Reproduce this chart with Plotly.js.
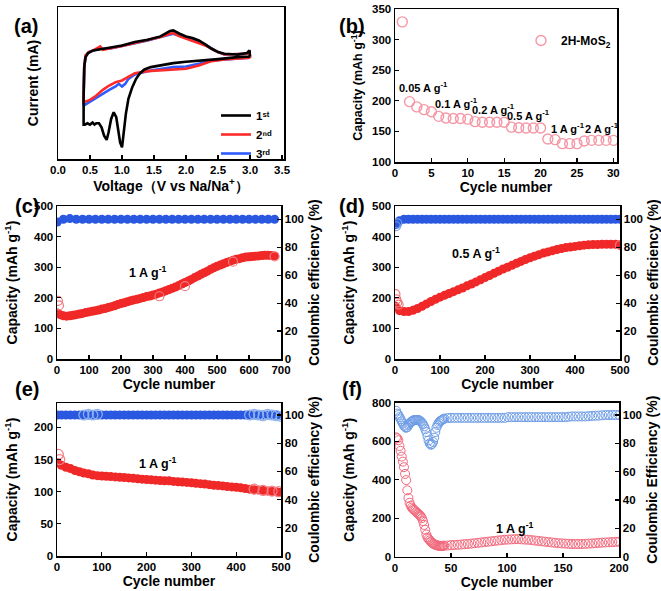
<!DOCTYPE html>
<html><head><meta charset="utf-8">
<script src="https://cdn.plot.ly/plotly-3.0.1.min.js"></script>
<style>html,body{margin:0;padding:0;background:#fff}#p{width:661px;height:591px}</style>
</head><body><div id="p"></div>
<script>
// ---------- (a) cyclic voltammetry ----------
const aV1 = [3.0,2.8,2.5,2.2,2.0,1.8,1.6,1.45,1.35,1.28,1.22,1.16,1.1,1.06,1.03,1.0,0.97,0.94,0.91,0.87,0.83,0.79,0.76,0.72,0.68,0.64,0.6,0.57,0.54,0.5,0.46,0.42,0.4,0.4,0.41,0.43,0.47,0.55,0.65,0.8,1.0,1.2,1.4,1.6,1.75,1.8,1.9,2.0,2.1,2.2,2.3,2.4,2.5,2.6,2.8,2.95,2.99,3.0];
const aI1 = [0.164,0.16,0.148,0.14,0.132,0.124,0.112,0.10,0.086,0.064,0.03,-0.02,-0.09,-0.18,-0.28,-0.38,-0.35,-0.28,-0.20,-0.17,-0.21,-0.29,-0.336,-0.31,-0.26,-0.236,-0.236,-0.244,-0.232,-0.244,-0.236,-0.244,-0.244,-0.08,0.10,0.16,0.184,0.20,0.208,0.216,0.23,0.25,0.264,0.284,0.316,0.32,0.30,0.284,0.274,0.26,0.236,0.21,0.19,0.18,0.176,0.184,0.20,0.164];
const aV2 = [3.0,2.6,2.4,2.2,2.0,1.8,1.6,1.4,1.2,1.1,1.0,0.9,0.8,0.7,0.6,0.5,0.45,0.4,0.4,0.41,0.43,0.48,0.55,0.62,0.66,0.7,0.8,1.0,1.2,1.4,1.6,1.75,1.8,1.9,2.0,2.1,2.2,2.3,2.4,2.5,2.6,2.8,2.95,2.99,3.0];
const aI2 = [0.156,0.146,0.136,0.11,0.09,0.086,0.08,0.076,0.064,0.044,0.02,0.01,-0.01,-0.036,-0.07,-0.096,-0.104,-0.11,-0.06,0.1,0.17,0.19,0.2,0.214,0.224,0.204,0.21,0.226,0.244,0.26,0.28,0.3,0.304,0.284,0.27,0.26,0.244,0.23,0.21,0.19,0.176,0.176,0.18,0.19,0.156];
const aV3 = [3.0,2.6,2.4,2.2,2.0,1.8,1.6,1.4,1.2,1.1,1.05,1.0,0.95,0.9,0.8,0.7,0.6,0.5,0.4,0.4,0.41,0.43,0.48,0.55,0.65,0.8,1.0,1.2,1.4,1.6,1.75,1.8,1.9,2.0,2.1,2.2,2.3,2.4,2.5,2.6,2.8,2.95,2.99,3.0];
const aI3 = [0.156,0.146,0.14,0.12,0.104,0.1,0.09,0.076,0.056,0.03,0,-0.016,0,-0.016,-0.036,-0.06,-0.084,-0.11,-0.13,-0.08,0.1,0.164,0.188,0.2,0.21,0.21,0.226,0.244,0.26,0.28,0.296,0.3,0.288,0.276,0.26,0.25,0.234,0.21,0.19,0.176,0.176,0.18,0.19,0.156];
const aNames = ['1ˢᵗ','2ⁿᵈ','3ʳᵈ'];

// ---------- (b) rate capability ----------
const bCycle = [1,2,3,4,5,6,7,8,9,10,11,12,13,14,15,16,17,18,19,20,21,22,23,24,25,26,27,28,29,30];
const bCap = [329,198.6,190,185.5,182,174.6,172,171,171,170,166,165,165,165,165,157,156,155.5,155.5,155.5,137.6,136.5,130,130,130,134.3,135.4,135.4,135.4,135.4];
const bRates = ['0.05 A g<sup>-1</sup>','0.1 A g<sup>-1</sup>','0.2 A g<sup>-1</sup>','0.5 A g<sup>-1</sup>','1 A g<sup>-1</sup>','2 A g<sup>-1</sup>'];
const bRateX = [3.85, 8.5, 13.6, 18.4, 23.7, 28.5];
const bRateY = [222, 196, 187, 177, 156, 156];

// ---------- (c) 1 A/g long cycling ----------
const cCycle = [1,10,20,30,40,50,60,70,80,90,100,110,120,130,140,150,160,170,180,190,200,210,220,230,240,250,260,270,280,290,300,310,320,330,340,350,360,370,380,390,400,410,420,430,440,450,460,470,480,490,500,510,520,530,540,550,560,570,580,590,600,610,620,630,640,650,660,670,680];
const cCap = [150,145,141,140,141,143,145,147,149,152,154,156,158,160,163,165,168,171,174,178,181,184,187,190,193,195,198,201,204,206,209,212,216,219,223,227,231,235,240,245,250,255,260,266,271,277,282,287,293,298,303,307,311,315,319,323,326,328,331,333,334,335,336,337,338,339,339,338,337];
const cOutCycle = [3,6,320,400,550,680];
const cOutCap = [190,175,205,238,318,335];
const cCECycle = [1,20,40,60,80,100,120,140,160,180,200,220,240,260,280,300,320,340,360,380,400,420,440,460,480,500,520,540,560,580,600,620,640,660,680];
const cCE = [98,100,100.5,100,100,100,100,100,100,100,100,100,100,100,100,100,100,100,100,100,100,100,100,100,100,100,100,100,100,100,100,100,100,100,100];

// ---------- (d) 0.5 A/g long cycling ----------
const dCycle = [1,10,20,30,40,50,60,70,80,90,100,110,120,130,140,150,160,170,180,190,200,210,220,230,240,250,260,270,280,290,300,310,320,330,340,350,360,370,380,390,400,410,420,430,440,450,460,470,480,490,500];
const dCap = [172,158,155,155,159,165,172,180,188,195,202,208,214,220,226,232,239,245,252,259,266,273,280,287,294,300,306,313,319,325,331,336,341,346,350,354,358,361,364,366,368,370,372,373,374,374,375,375,375,375,374];
const dOutCycle = [1,3,5,8,500];
const dOutCap = [212,195,185,178,372];
const dCE = [96,99,100,100,100,100,100,100,100,100,100,100,100,100,100,100,100,100,100,100,100,100,100,100,100,100,100,100,100,100,100,100,100,100,100,100,100,100,100,100,100,100,100,100,100,100,100,100,100,100,100];
const dCEOutCycle = [2,5];
const dCEOut = [95,97];

// ---------- (e) 1 A/g long cycling ----------
const eCycle = dCycle;
const eCap = [145,141,138,136,133,131,129,128,126,125,124.5,124,123.5,123,122.5,122,121.5,121,120,119.5,119,118.5,118,117.5,117,117,116,115.5,115,114.5,114,113,112.5,112,111,110,109.5,109,108,107.5,107,106,105,104,103,102.5,102,101,100.5,100,99];
const eOutCycle = [3,6,440,460,480,495];
const eOutCap = [158,150,104,102,101,100];
const eCE = [100,100,100,100,100,100,100,100,100,100,100,100,100,100,100,100,100,100,100,100,100,100,100,100,100,100,100,100,100,100,100,100,100,100,100,100,100,100,100,100,100,100,100,100,100,100,100,100,100,100,99.5];
const eCEOutCycle = [60,70,80,90,430,440,450,460,470,480,490,500];
const eCEOut = [100,100.5,100,100.5,100,100.5,100,99.5,100.5,100,99.5,99];

// ---------- (f) 1 A/g long cycling ----------
const fCycle = [1,2,3,4,5,6,7,8,9,10,11,12,13,14,15,16,17,18,19,20,21,22,23,24,25,26,27,28,29,30,31,32,33,34,35,36,37,38,39,40,41,42,43,44,47,50,53,56,59,62,65,68,71,74,77,80,83,86,89,92,95,98,101,104,107,110,113,116,119,122,125,128,131,134,137,140,143,146,149,152,155,158,161,164,167,170,173,176,179,182,185,188,191,194,197,200];
const fCap = [620,615,605,575,550,520,494,465,430,398,345,305,280,265,255,248,243,238,232,226,222,216,210,200,185,165,140,115,100,92,85,78,72,68,65,62,60,58,57,56,56,56,57,57,58,60,61,62,63,65,66,68,70,72,74,76,78,80,82,84,86,88,89,90,91,91,90,89,88,86,84,82,80,78,76,74,72,70,69,68,67,66,66,66,66,67,68,69,70,72,73,74,75,76,77,78];
const fCE = [103,101,100,98.5,97,95.5,94,92.5,91.5,91,91.5,93,94,95,95.5,96,96.5,96.5,96.5,96.5,96.5,96,95.5,94.5,93.5,92,90,88,85,82,80,79,79.5,81,84,88,91,93,94.5,95.5,96,96.5,97,97.5,97.8,98,98,98,98,98,98,98,98,98,98,98,98,98,98,98,98,98,98.5,98.5,98.5,98.5,98.5,98.5,98.5,98.5,98.5,98.5,98.5,98.5,98.5,98.5,98.5,98.5,98.5,98.5,98.8,99,99,99,99,99,99.2,99.4,99.5,99.6,99.8,100,100,100,100,100];

// ---------- layout helpers (pixel -> paper) ----------
const W = 661, H = 591;
const FF = 'Liberation Sans, Arial, DejaVu Sans, sans-serif';
const hx = (a, b) => [a / W, b / W];
const vy = (top, bot) => [1 - bot / H, 1 - top / H];
const tickF = {family: FF, size: 11.5, color: '#000', weight: 'bold'};
const titleF = {family: FF, size: 14, color: '#000', weight: 'bold'};

function xa(dom, anchor, range, dtick, title, extra) {
  return Object.assign({domain: dom, anchor: anchor, range: range, dtick: dtick, tick0: 0,
    showline: true, linecolor: '#000', linewidth: 1.5, mirror: true, ticks: 'inside', ticklen: 4, tickwidth: 1.2,
    tickcolor: '#000', showgrid: false, zeroline: false, tickfont: tickF,
    title: {text: title, font: titleF, standoff: 4}}, extra || {});
}
function ya(dom, anchor, range, dtick, title, standoff, extra, tf) {
  return Object.assign({domain: dom, anchor: anchor, range: range, dtick: dtick, tick0: 0,
    showline: true, linecolor: '#000', linewidth: 1.5, ticks: 'inside', ticklen: 4, tickwidth: 1.2,
    tickcolor: '#000', showgrid: false, zeroline: false, tickfont: tickF,
    title: {text: title, font: tf || titleF, standoff: standoff}}, extra || {});
}

const RED = '#f02828', BLUE = '#2a58e0';
const traces = [];
// (a)
traces.push({x: aV3, y: aI3, mode: 'lines', line: {color: '#2f5cff', width: 2.6}, name: aNames[2], legendrank: 3, xaxis: 'x', yaxis: 'y', legend: 'legend'});
traces.push({x: aV2, y: aI2, mode: 'lines', line: {color: '#ff2a2a', width: 2.6}, name: aNames[1], legendrank: 2, xaxis: 'x', yaxis: 'y', legend: 'legend'});
traces.push({x: aV1, y: aI1, mode: 'lines', line: {color: '#000', width: 2.6}, name: aNames[0], legendrank: 1, xaxis: 'x', yaxis: 'y', legend: 'legend'});
// (b)
traces.push({x: bCycle, y: bCap, mode: 'markers', name: '2H-MoS<sub>2</sub>', xaxis: 'x2', yaxis: 'y2', legend: 'legend2',
  marker: {symbol: 'circle-open', size: 10, color: '#f598a6', line: {width: 1.4}}});
// (c)
traces.push({x: cCECycle, y: cCE, mode: 'markers', xaxis: 'x3', yaxis: 'y4', showlegend: false, marker: {symbol: 'circle', size: 9, color: BLUE, line: {width: 0}}});
traces.push({x: cCycle, y: cCap, mode: 'markers', xaxis: 'x3', yaxis: 'y3', showlegend: false, marker: {symbol: 'circle', size: 9, color: RED, line: {width: 0}}});
traces.push({x: cOutCycle, y: cOutCap, mode: 'markers', xaxis: 'x3', yaxis: 'y3', showlegend: false, marker: {symbol: 'circle-open', size: 9, color: '#f07a80', line: {width: 1.2}}});
// (d)
traces.push({x: dCycle, y: dCE, mode: 'markers', xaxis: 'x4', yaxis: 'y6', showlegend: false, marker: {symbol: 'circle', size: 9, color: BLUE, line: {width: 0}}});
traces.push({x: dCEOutCycle, y: dCEOut, mode: 'markers', xaxis: 'x4', yaxis: 'y6', showlegend: false, marker: {symbol: 'circle-open', size: 9, color: '#6f9be6', line: {width: 1.2}}});
traces.push({x: dCycle, y: dCap, mode: 'markers', xaxis: 'x4', yaxis: 'y5', showlegend: false, marker: {symbol: 'circle', size: 9, color: RED, line: {width: 0}}});
traces.push({x: dOutCycle, y: dOutCap, mode: 'markers', xaxis: 'x4', yaxis: 'y5', showlegend: false, marker: {symbol: 'circle-open', size: 9, color: '#f07a80', line: {width: 1.2}}});
// (e)
traces.push({x: eCycle, y: eCE, mode: 'markers', xaxis: 'x5', yaxis: 'y8', showlegend: false, marker: {symbol: 'circle', size: 9, color: BLUE, line: {width: 0}}});
traces.push({x: eCEOutCycle, y: eCEOut, mode: 'markers', xaxis: 'x5', yaxis: 'y8', showlegend: false, marker: {symbol: 'circle-open', size: 10, color: '#8fb2ee', line: {width: 1.2}}});
traces.push({x: eCycle, y: eCap, mode: 'markers', xaxis: 'x5', yaxis: 'y7', showlegend: false, marker: {symbol: 'circle', size: 9, color: RED, line: {width: 0}}});
traces.push({x: eOutCycle, y: eOutCap, mode: 'markers', xaxis: 'x5', yaxis: 'y7', showlegend: false, marker: {symbol: 'circle-open', size: 10, color: '#f28088', line: {width: 1.2}}});
// (f)
traces.push({x: fCycle, y: fCE, mode: 'markers', xaxis: 'x6', yaxis: 'y10', showlegend: false, marker: {symbol: 'circle-open', size: 9, color: '#6d9ce6', line: {width: 1}}});
traces.push({x: fCycle, y: fCap, mode: 'markers', xaxis: 'x6', yaxis: 'y9', showlegend: false, marker: {symbol: 'circle-open', size: 9, color: '#f2687c', line: {width: 1}}});

const colL = hx(57, 281), colR = hx(395, 620);
const row2 = vy(206, 359), row3 = vy(403, 556);
const R2 = [0, 109.5];
const capT = 'Capacity (mAh g<sup>-1</sup>)';
const bTitleF = {family: FF, size: 12.5, color: '#000', weight: 'bold'};
const layout = {
  width: W, height: H, margin: {l: 0, r: 0, t: 0, b: 0}, paper_bgcolor: '#fff', plot_bgcolor: '#fff',
  font: {family: FF, color: '#000'},
  xaxis: xa(hx(58, 284), 'y', [0, 3.53], 0.5, 'Voltage（V vs Na/Na<sup>+</sup>）', {tickformat: '.1f'}),
  yaxis: ya(vy(7, 159), 'x', [-0.45, 0.46], 0.1, 'Current (mA)', 14, {mirror: true, ticks: '', showticklabels: false}),
  xaxis2: xa(hx(395, 617), 'y2', [0, 30.5], 5, 'Cycle number'),
  yaxis2: ya(vy(9, 162), 'x2', [100, 350], 50, capT, 6, {mirror: true}, bTitleF),
  xaxis3: xa(colL, 'y3', [0, 700], 100, 'Cycle number'),
  yaxis3: ya(row2, 'x3', [0, 500], 100, capT, 13),
  yaxis4: ya(row2, 'x3', R2, 20, 'Coulombic efficiency (%)', 6, {overlaying: 'y3', side: 'right'}),
  xaxis4: xa(colR, 'y5', [0, 500], 100, 'Cycle number'),
  yaxis5: ya(row2, 'x4', [0, 500], 100, capT, 14),
  yaxis6: ya(row2, 'x4', R2, 20, 'Coulombic efficiency (%)', 6, {overlaying: 'y5', side: 'right'}),
  xaxis5: xa(colL, 'y7', [0, 500], 100, 'Cycle number'),
  yaxis7: ya(row3, 'x5', [0, 238], 50, capT, 13),
  yaxis8: ya(row3, 'x5', [0, 108.5], 20, 'Coulombic efficiency (%)', 6, {overlaying: 'y7', side: 'right'}),
  xaxis6: xa(hx(395, 619), 'y9', [0, 200], 50, 'Cycle number'),
  yaxis9: ya(vy(402.7, 556.7), 'x6', [0, 800], 200, capT, 14),
  yaxis10: ya(vy(402.7, 556.7), 'x6', [0, 108.7], 20, 'Coulombic Efficiency (%)', 6, {overlaying: 'y9', side: 'right'}),
  showlegend: true,
  legend: {x: 216 / W, y: 1 - 101 / H, xanchor: 'left', yanchor: 'top', bgcolor: 'rgba(0,0,0,0)', borderwidth: 0,
    font: {family: FF, size: 11.5, color: '#000', weight: 'bold'}, itemwidth: 30, tracegroupgap: 0, traceorder: 'normal'},
  legend2: {x: 521 / W, y: 1 - 26 / H, xanchor: 'left', yanchor: 'top', bgcolor: 'rgba(0,0,0,0)',
    font: {family: FF, size: 12, color: '#000', weight: 'bold'}, itemwidth: 30},
  annotations: []
};
const ann = layout.annotations;
const lab = (t, x, y) => ann.push({text: t, x: x / W, y: 1 - y / H, xref: 'paper', yref: 'paper', showarrow: false,
  font: {family: FF, size: 20, color: '#000', weight: 'bold'}, borderpad: 0});
lab('(a)', 13, 14); lab('(b)', 352, 14); lab('(c)', 14, 206); lab('(d)', 352, 206); lab('(e)', 14, 401); lab('(f)', 352, 401);
for (let i = 0; i < bRates.length; i++) {
  ann.push({text: bRates[i], x: bRateX[i], y: bRateY[i], xref: 'x2', yref: 'y2', showarrow: false,
    font: {family: FF, size: 11, color: '#000', weight: 'bold'}});
}
const rate = (t, xr, yr, x, y) => ann.push({text: t, x: x, y: y, xref: xr, yref: yr, showarrow: false,
  font: {family: FF, size: 12.5, color: '#000', weight: 'bold'}});
rate('1 A g<sup>-1</sup>', 'x3', 'y3', 285, 285);
rate('0.5 A g<sup>-1</sup>', 'x4', 'y5', 180, 345);
rate('1 A g<sup>-1</sup>', 'x5', 'y7', 225, 145);
rate('1 A g<sup>-1</sup>', 'x6', 'y9', 107, 150);

Plotly.newPlot('p', traces, layout, {staticPlot: true});
</script></body></html>
